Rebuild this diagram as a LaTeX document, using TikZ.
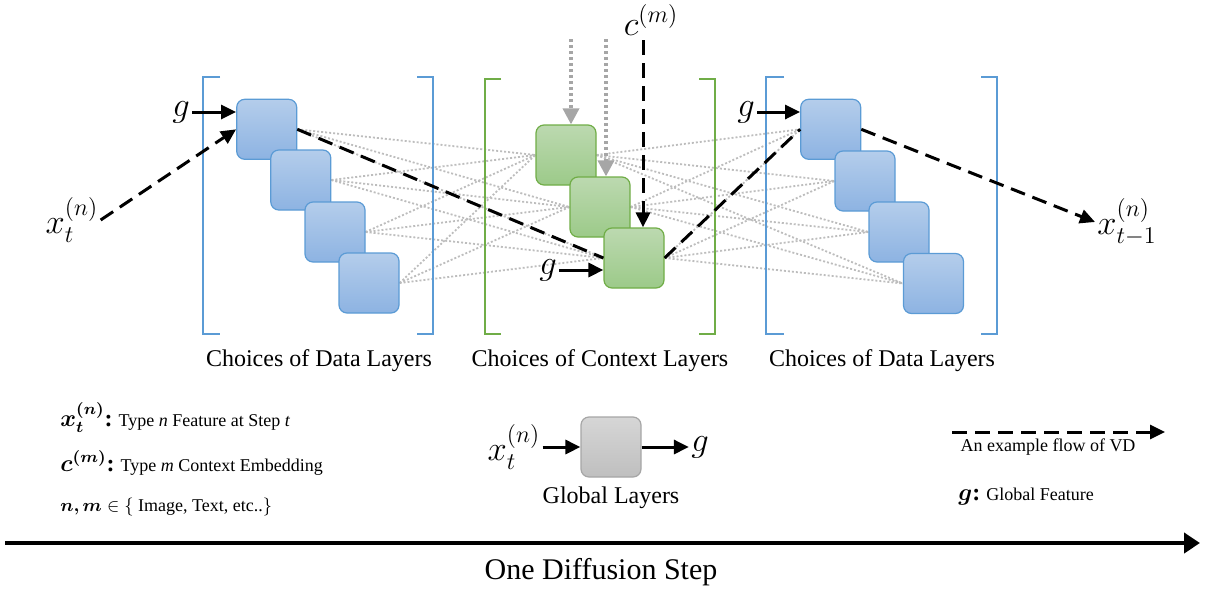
\documentclass[tikz,border=0pt]{standalone}
\usepackage{fontspec}
\setmainfont{Liberation Serif}
\usepackage{amsmath}
\usepackage{bm}
\usetikzlibrary{arrows.meta,backgrounds}

\definecolor{datablue}{HTML}{5B9BD5}
\definecolor{datatop}{HTML}{B4CDEB}
\definecolor{databot}{HTML}{8DB3E2}
\definecolor{ctxgreen}{HTML}{70AD47}
\definecolor{ctxtop}{HTML}{BCD9B0}
\definecolor{ctxbot}{HTML}{9CCA89}
\definecolor{globtop}{HTML}{D6D6D6}
\definecolor{globbot}{HTML}{BFBFBF}
\definecolor{linkgray}{HTML}{BDBDBD}
\definecolor{condgray}{HTML}{A6A6A6}

\begin{document}
\begin{tikzpicture}[x=0.5pt, y=-0.5pt,
  databox/.style={draw=datablue, line width=0.6pt, top color=datatop, bottom color=databot, rounded corners=4pt, minimum size=30pt, inner sep=0pt},
  ctxbox/.style={draw=ctxgreen, line width=0.6pt, top color=ctxtop, bottom color=ctxbot, rounded corners=4pt, minimum size=30pt, inner sep=0pt},
  globbox/.style={draw=condgray, line width=0.6pt, top color=globtop, bottom color=globbot, rounded corners=4pt, minimum size=30pt, inner sep=0pt},
  bracket/.style={line width=0.8pt},
  link/.style={draw=linkgray, line width=0.9pt, dash pattern=on 1pt off 1pt},
  flow/.style={line width=1.5pt, dash pattern=on 7.5pt off 4pt},
  tip/.style={-{Triangle[length=7.5pt,width=7pt]}},
  feed/.style={line width=1.5pt, -{Triangle[length=7.5pt,width=7pt]}},
  cond/.style={draw=condgray, line width=1.8pt, dash pattern=on 1.5pt off 1.5pt, -{Triangle[length=8pt,width=8pt,fill=condgray]}},
  lab/.style={font=\fontsize{18}{21}\selectfont, inner sep=1pt},
  caption/.style={font=\fontsize{12}{14}\selectfont},
  small/.style={font=\fontsize{9}{11}\selectfont, anchor=west, inner sep=0pt}]
\useasboundingbox (0,0) rectangle (1205,595);

% brackets
\draw[bracket, datablue] (220,77) -| (203,334) -- (220,334);
\draw[bracket, datablue] (417,77) -| (433,334) -- (417,334);
\draw[bracket, ctxgreen] (501,79) -| (485,334) -- (501,334);
\draw[bracket, ctxgreen] (699,79) -| (715,334) -- (699,334);
\draw[bracket, datablue] (784,77) -| (766,334) -- (784,334);
\draw[bracket, datablue] (981,77) -| (997,334) -- (981,334);

% layer choices
\node[databox] (d1) at (266.7,129.3) {};
\node[databox] (d2) at (300.8,180) {};
\node[databox] (d3) at (335,232) {};
\node[databox] (d4) at (369,283) {};

\node[ctxbox] (c1) at (566,155) {};
\node[ctxbox] (c2) at (600,207) {};
\node[ctxbox] (c3) at (634,258) {};

\node[databox] (r1) at (830.7,129.3) {};
\node[databox] (r2) at (865,181) {};
\node[databox] (r3) at (899,232) {};
\node[databox] (r4) at (933.5,283.5) {};

\begin{scope}[on background layer]
\foreach \a in {d1,d2,d3,d4}
  \foreach \b in {c1,c2,c3}
    \draw[link] (\a.east) -- (\b.west);
\foreach \a in {c1,c2,c3}
  \foreach \b in {r1,r2,r3,r4}
    \draw[link] (\a.east) -- (\b.west);
\end{scope}

% inputs
\node[lab] (xin) at (72,220) {$x_t^{(n)}$};
\node[lab] (xout) at (1127,222) {$x_{t-1}^{(n)}$};
\node[lab] (g1) at (181,112) {$g$};
\node[lab] (g2) at (548,270) {$g$};
\node[lab] (g3) at (746,112) {$g$};
\node[lab] (cm) at (651,20) {$c^{(m)}$};

\draw[feed] (g1.east) -- (g1.east -| d1.west);
\draw[feed] (g2.east) -- (g2.east -| c3.west);
\draw[feed] (g3.east) -- (g3.east -| r1.west);

\coordinate (t1) at (571,39);
\coordinate (t2) at (606,39);
\coordinate (t3) at (643,40);
\draw[cond] (t1) -- (t1 |- c1.north);
\draw[cond] (t2) -- (t2 |- c2.north);
\draw[flow, tip] (t3) -- (t3 |- c3.north);

% example flow
\draw[flow, tip] (xin.east) -- (d1.west);
\draw[flow] (d1.east) -- (c3.west);
\draw[flow] (c3.east) -- (r1.west);
\draw[flow, tip] (r1.east) -- (xout.west);

\node[caption] (cd1) at (319,361) {Choices of Data Layers};
\node[caption] (cc) at (600,361) {Choices of Context Layers};
\node[caption] (cd2) at (882,361) {Choices of Data Layers};

% legend
\node[small] (l1) at (60,417) {{\fontsize{12}{14}\selectfont$\bm{x_t^{(n)}}$\textbf{:}} Type \textit{n} Feature at Step \textit{t}};
\node[small] (l2) at (60,463) {{\fontsize{12}{14}\selectfont$\bm{c^{(m)}}$\textbf{:}} Type \textit{m} Context Embedding};
\node[small] (l3) at (60,507) {$\bm{n,m}\in\{$ Image, Text, etc..$\}$};

\node[globbox] (gl) at (611,447) {};
\node[lab] (gx) at (514,447) {$x_t^{(n)}$};
\node[lab] (gg) at (700,447) {$g$};
\draw[feed] (gx) -- (gl);
\draw[feed] (gl) -- (gg);
\node[caption] (gcap) at (611,498) {Global Layers};

\coordinate (f0) at (952,432);
\coordinate (f1) at (1165,432);
\draw[flow, tip] (f0) -- (f1);
\node[font=\fontsize{9}{11}\selectfont] (fl) at (1048,447) {An example flow of VD};
\node[small] (l4) at (958,497) {{\fontsize{12}{14}\selectfont$\bm{g}$\textbf{:}} Global Feature};

% one step
\coordinate (s0) at (5,543);
\coordinate (s1) at (1200,543);
\draw[line width=2pt, -{Triangle[length=8pt,width=10pt]}] (s0) -- (s1);
\node[font=\fontsize{15}{18}\selectfont] (step) at (601,572) {One Diffusion Step};
\end{tikzpicture}
\end{document}
